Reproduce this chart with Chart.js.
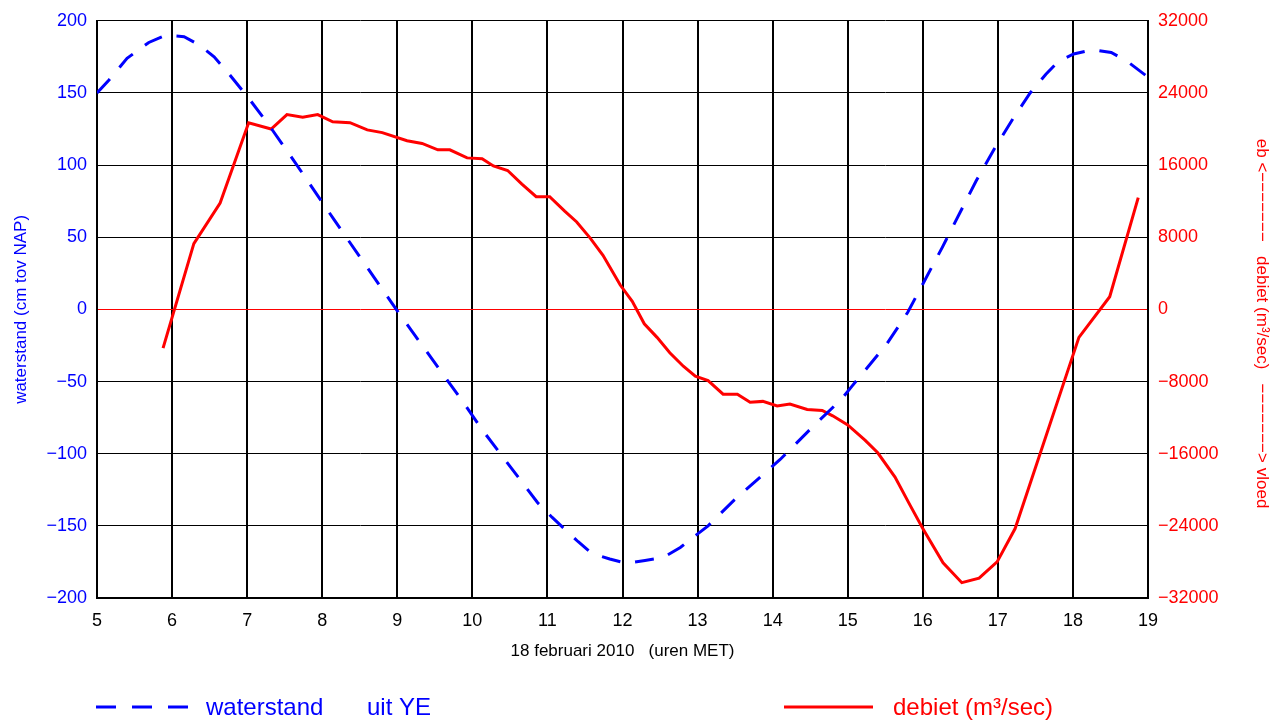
<!DOCTYPE html>
<html>
<head>
<meta charset="utf-8">
<script src="https://cdn.jsdelivr.net/npm/chart.js@4.4.1/dist/chart.umd.min.js"></script>
<style>
  html, body { margin: 0; padding: 0; background: #fff; }
  #wrap { width: 1274px; height: 721px; }
</style>
</head>
<body>
<div id="wrap"><canvas id="tideChart" width="1274" height="721"></canvas></div>
<script>
// hours on the x axis (uren MET)
const hourTicks = [5, 6, 7, 8, 9, 10, 11, 12, 13, 14, 15, 16, 17, 18, 19];
const levelTicks = [-200, -150, -100, -50, 0, 50, 100, 150, 200];
const flowTicks = [-32000, -24000, -16000, -8000, 0, 8000, 16000, 24000, 32000];

// waterstand uit YE (cm tov NAP)
const waterHours = [5.0, 5.16, 5.40, 5.69, 5.91, 6.16, 6.37, 6.56, 6.73, 7.04, 7.30, 7.61, 8.16, 9.0, 9.86,
    10.14, 10.87, 11.06, 11.41, 11.59, 11.83, 12.06, 12.30, 12.54, 12.77, 12.94, 13.14, 13.49, 14.1, 14.56,
    14.92, 15.06, 15.52, 15.80, 16.26, 16.71, 16.95, 17.20, 17.43, 17.64, 17.81, 18.01, 18.27, 18.51, 18.72, 19.0];
const waterValues = [150, 159, 174, 185, 190, 189, 183, 175, 165, 145, 127, 104, 62, -1, -63,
    -84, -134, -144, -161, -169, -173, -176, -174, -172, -165, -158, -150, -132, -104, -80,
    -62, -53, -24, -2, 43, 89, 111, 132, 150, 163, 172, 177, 180, 178, 172, 161];

// debiet (m3/sec)
const debietHours = [5.88, 6.29, 6.64, 7.02, 7.32, 7.53, 7.74, 7.94, 8.14, 8.37, 8.60, 8.80, 9.13, 9.33, 9.54,
    9.70, 9.93, 10.13, 10.28, 10.47, 10.66, 10.85, 11.03, 11.23, 11.39, 11.57, 11.74, 11.97, 12.13, 12.29,
    12.46, 12.63, 12.81, 12.97, 13.14, 13.34, 13.53, 13.70, 13.87, 14.06, 14.23, 14.46, 14.66, 14.80, 15.00,
    15.23, 15.40, 15.63, 15.83, 16.00, 16.27, 16.52, 16.75, 16.99, 17.23, 18.08, 18.49, 18.87];
const debietValues = [-4300, 7300, 11800, 20700, 20000, 21600, 21300, 21600, 20800, 20700, 19900, 19600, 18700, 18400, 17700,
    17700, 16800, 16700, 15900, 15400, 13900, 12500, 12500, 10900, 9700, 7900, 6000, 2700, 900, -1600,
    -3100, -4800, -6300, -7400, -7900, -9400, -9400, -10300, -10200, -10700, -10500, -11100, -11200, -11800, -12800,
    -14500, -15900, -18600, -21700, -24300, -28100, -30300, -29800, -28000, -24300, -3100, 1400, 12400];

const FONT = 'Liberation Sans, Arial, sans-serif';
const minus = v => String(v).replace('-', '\u2212');
const arrowDashes = '\u2212'.repeat(7);

// legend drawn under the plot, like the original
const bottomLegend = {
    id: 'bottomLegend',
    afterDraw(chart) {
        const ctx = chart.ctx;
        ctx.save();
        ctx.lineWidth = 3;
        ctx.strokeStyle = '#0000ff';
        ctx.setLineDash([20, 16]);
        ctx.beginPath();
        ctx.moveTo(96, 707);
        ctx.lineTo(188, 707);
        ctx.stroke();
        ctx.setLineDash([]);
        ctx.strokeStyle = '#ff0000';
        ctx.beginPath();
        ctx.moveTo(784, 707);
        ctx.lineTo(873, 707);
        ctx.stroke();

        ctx.font = '24px ' + FONT;
        ctx.textBaseline = 'middle';
        ctx.fillStyle = '#0000ff';
        ctx.fillText('waterstand', 206, 708);
        ctx.fillText('uit YE', 367, 708);
        ctx.fillStyle = '#ff0000';
        ctx.fillText('debiet (m\u00b3/sec)', 893, 708);
        ctx.restore();
    }
};

new Chart(document.getElementById('tideChart'), {
    type: 'line',
    data: {
        datasets: [{
            label: 'waterstand',
            data: waterHours.map((h, i) => ({ x: h, y: waterValues[i] })),
            yAxisID: 'y',
            borderColor: '#0000ff',
            borderWidth: 3,
            borderDash: [19, 15],
            pointRadius: 0,
            tension: 0,
            order: 0
        }, {
            label: 'debiet',
            data: debietHours.map((h, i) => ({ x: h, y: debietValues[i] })),
            yAxisID: 'y1',
            borderColor: '#ff0000',
            borderWidth: 3,
            pointRadius: 0,
            tension: 0,
            order: 1
        }]
    },
    options: {
        responsive: false,
        animation: false,
        devicePixelRatio: 1,
        layout: { padding: { top: 20, bottom: 53, left: 0, right: 0 } },
        scales: {
            x: {
                type: 'linear',
                min: 5,
                max: 19,
                afterBuildTicks: s => { s.ticks = hourTicks.map(v => ({ value: v })); },
                afterFit: s => { s.height = 70; },
                grid: { color: '#000', lineWidth: 2, drawTicks: false },
                border: { color: '#000', width: 2 },
                ticks: { color: '#000', font: { family: FONT, size: 18 }, padding: 12, maxRotation: 0 },
                title: {
                    display: true,
                    text: '18 februari 2010   (uren MET)',
                    color: '#000',
                    font: { family: FONT, size: 17 },
                    padding: { top: 0, bottom: 6 }
                }
            },
            y: {
                position: 'left',
                min: -200,
                max: 200,
                afterBuildTicks: s => { s.ticks = levelTicks.map(v => ({ value: v })); },
                afterFit: s => { s.width = 97; },
                grid: {
                    color: c => (c.tick && c.tick.value === 0) ? '#ff0000' : '#000',
                    lineWidth: 1,
                    drawTicks: false
                },
                border: { color: '#000', width: 2 },
                ticks: { color: '#0000ff', font: { family: FONT, size: 18 }, padding: 10, callback: v => minus(v) },
                title: {
                    display: true,
                    text: 'waterstand (cm tov NAP)',
                    color: '#0000ff',
                    font: { family: FONT, size: 17 },
                    padding: { top: 11, bottom: 0 }
                }
            },
            y1: {
                position: 'right',
                min: -32000,
                max: 32000,
                afterBuildTicks: s => { s.ticks = flowTicks.map(v => ({ value: v })); },
                afterFit: s => { s.width = 126; },
                grid: { display: false, drawTicks: false },
                border: { color: '#000', width: 2 },
                ticks: { color: '#ff0000', font: { family: FONT, size: 18 }, padding: 10, callback: v => minus(v) },
                title: {
                    display: true,
                    // leading spaces push the label down a little, as in the original
                    text: '      eb <' + arrowDashes + '   debiet (m\u00b3/sec)   ' + arrowDashes + '> vloed',
                    color: '#ff0000',
                    font: { family: FONT, size: 17 },
                    padding: { top: 2, bottom: 0 }
                }
            }
        },
        plugins: {
            legend: { display: false },
            tooltip: { enabled: false }
        }
    },
    plugins: [bottomLegend]
});
</script>
</body>
</html>
